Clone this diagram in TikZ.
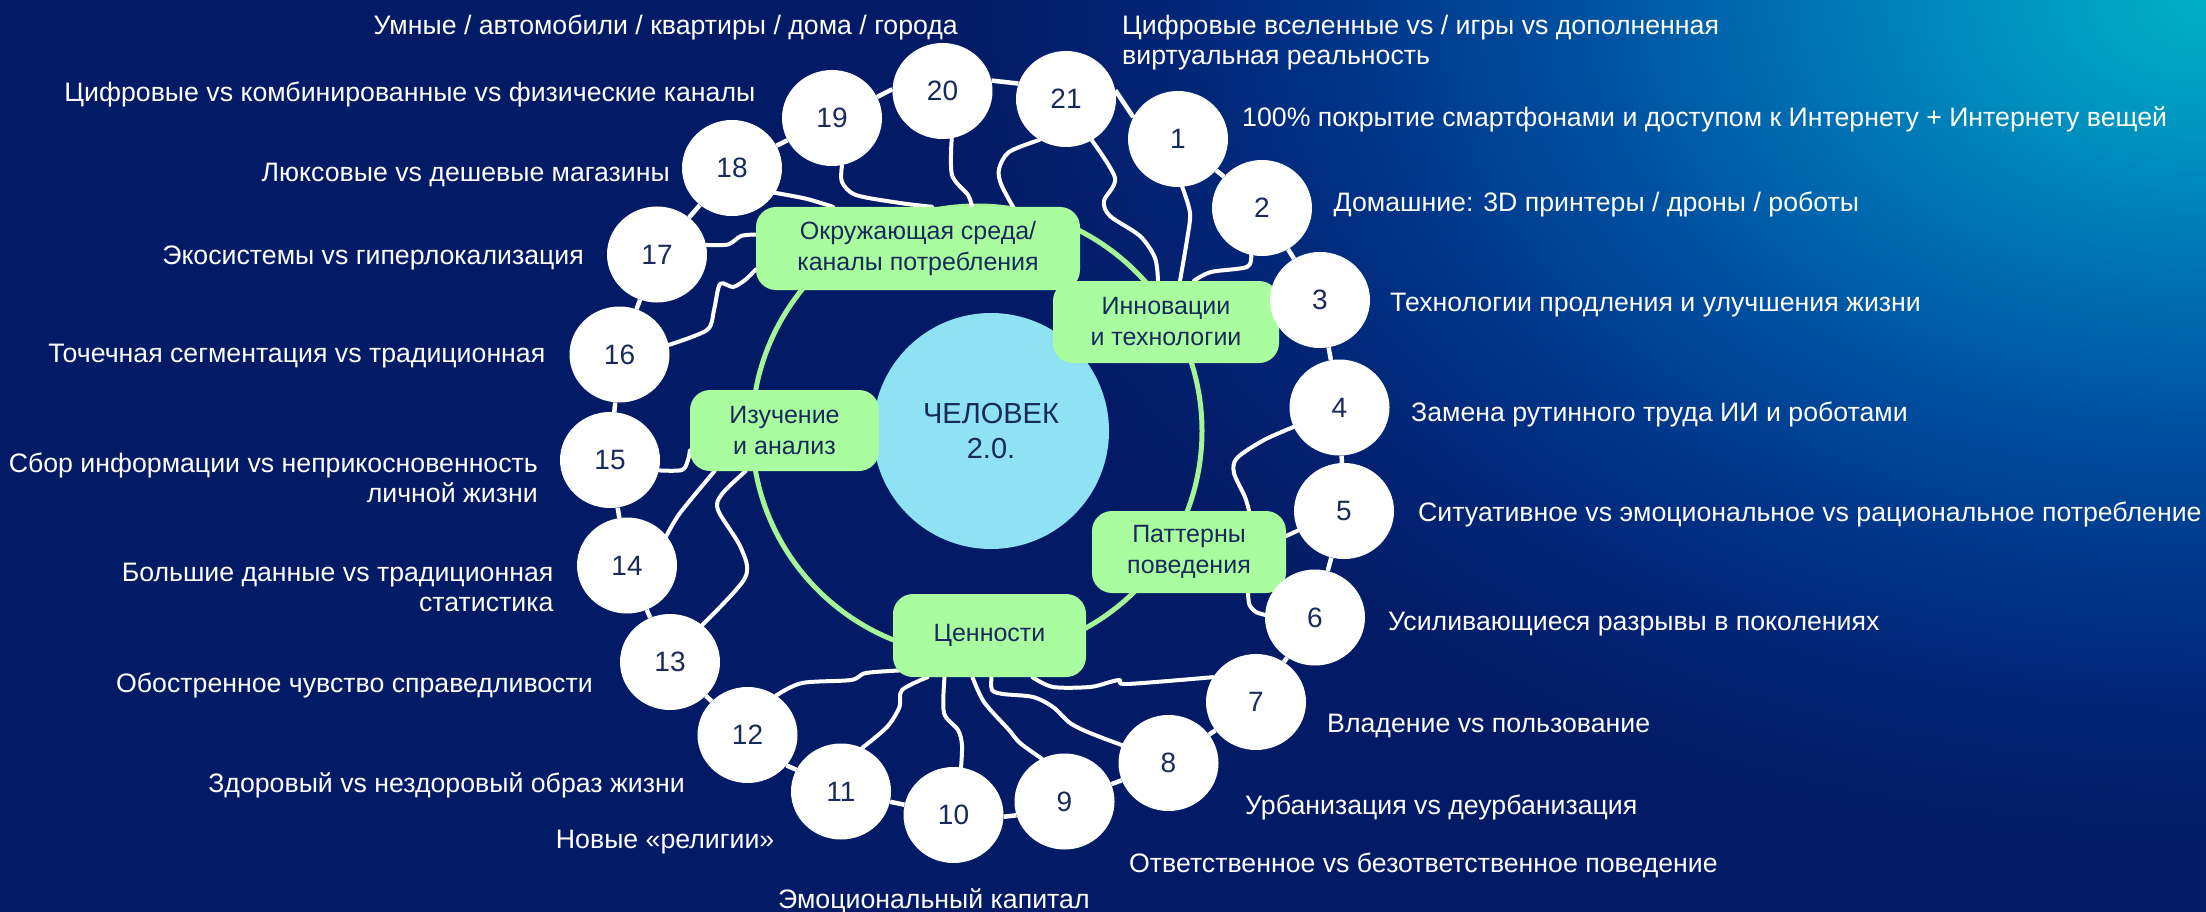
\documentclass[tikz,border=0pt]{standalone}
\usepackage{fontspec}
\setmainfont{Liberation Sans}
\usetikzlibrary{shapes.geometric}
\definecolor{bgnavy}{RGB}{3,27,102}
\definecolor{glowA}{RGB}{0,176,198}
\definecolor{glowB}{RGB}{0,150,192}
\definecolor{glowC}{RGB}{0,118,182}
\definecolor{glowD}{RGB}{0,80,160}
\definecolor{glowE}{RGB}{0,50,135}
\definecolor{glowF}{RGB}{3,35,115}
\definecolor{boxgreen}{RGB}{170,253,158}
\definecolor{ringgreen}{RGB}{165,245,150}
\definecolor{corecyan}{RGB}{142,226,243}
\definecolor{darktext}{RGB}{24,42,92}
\pgfdeclareradialshading{bgglow}{\pgfpoint{0bp}{0bp}}{color(0bp)=(glowA); color(3.75bp)=(glowB); color(7.5bp)=(glowC); color(12.5bp)=(glowD); color(17.5bp)=(glowE); color(21.25bp)=(glowF); color(25bp)=(bgnavy); color(50bp)=(bgnavy)}
\pgfdeclarelayer{bglayer}
\pgfdeclarelayer{wirelayer}
\pgfsetlayers{bglayer,wirelayer,main}
\begin{document}
\begin{tikzpicture}[x=1pt,y=-1pt,
  num/.style={ellipse, fill=white, minimum width=100pt, minimum height=96pt, inner sep=0pt, text=darktext, font=\fontsize{28}{28}\selectfont},
  cat/.style={rounded corners=20pt, fill=boxgreen, text=darktext, align=center, font=\fontsize{25}{31}\selectfont, inner sep=0pt},
  lbl/.style={text=white, font=\fontsize{26.7}{30}\selectfont, inner sep=0pt, text height=19.2pt, text depth=0pt},
  lblm/.style={text=white, font=\fontsize{26.7}{30}\selectfont, inner sep=0pt},
  wire/.style={white, line width=4pt, line cap=round, line join=round},
  link/.style={white, line width=4.5pt},
  ringline/.style={draw=ringgreen, line width=5pt}
]
\begin{pgfonlayer}{bglayer}
\fill[bgnavy] (0,0) rectangle (2206,912);
\begin{scope}
\clip (0,0) rectangle (2206,912);
\shade[shading=bgglow] (2206,0) ellipse [x radius=1250pt, y radius=850pt];
\end{scope}
\draw[ringline] (977,431) circle (225pt);
\end{pgfonlayer}
\useasboundingbox (0,0) rectangle (2206,912);

% core
\node[circle, fill=corecyan, minimum size=236pt, inner sep=0pt, text=darktext, align=center, font=\fontsize{29}{35}\selectfont] (core) at (991,431) {ЧЕЛОВЕК\\2.0.};

% category boxes
\node[cat, minimum width=324pt, minimum height=83pt] (env) at (918,248.5) {Окружающая среда/\\каналы потребления};
\node[cat, minimum width=226pt, minimum height=82pt] (inn) at (1166,322) {Инновации\\и технологии};
\node[cat, minimum width=189pt, minimum height=81pt] (study) at (784.5,430.5) {Изучение\\и анализ};
\node[cat, minimum width=194pt, minimum height=82pt] (pat) at (1189,552) {Паттерны\\поведения};
\node[cat, minimum width=193pt, minimum height=83pt] (val) at (989.5,635.5) {Ценности};

% numbered circles
\node[num] (c1) at (1178,139) {1};
\node[num] (c2) at (1262,208) {2};
\node[num] (c3) at (1320,300) {3};
\node[num] (c4) at (1339.5,407.5) {4};
\node[num] (c5) at (1344,511) {5};
\node[num] (c6) at (1315,617.5) {6};
\node[num] (c7) at (1256,702) {7};
\node[num] (c8) at (1168.5,763) {8};
\node[num] (c9) at (1064.5,801.5) {9};
\node[num] (c10) at (953.5,815) {10};
\node[num] (c11) at (841,791.5) {11};
\node[num] (c12) at (747.5,735) {12};
\node[num] (c13) at (670,662) {13};
\node[num] (c14) at (627,565.5) {14};
\node[num] (c15) at (610,460) {15};
\node[num] (c16) at (619.5,354.5) {16};
\node[num] (c17) at (657,254.5) {17};
\node[num] (c18) at (732,168) {18};
\node[num] (c19) at (832,118) {19};
\node[num] (c20) at (942.5,91) {20};
\node[num] (c21) at (1066,99) {21};

\begin{pgfonlayer}{wirelayer}
% chain
\draw[link] (c1) -- (c2);
\draw[link] (c2) -- (c3);
\draw[link] (c3) -- (c4);
\draw[link] (c4) -- (c5);
\draw[link] (c5) -- (c6);
\draw[link] (c6) -- (c7);
\draw[link] (c7) -- (c8);
\draw[link] (c8) -- (c9);
\draw[link] (c9.196) -- (c10.-2);
\draw[link] (c10) -- (c11);
\draw[link] (c12.-38) -- (c11.154);
\draw[link] (c12) -- (c13);
\draw[link] (c13) -- (c14);
\draw[link] (c14) -- (c15);
\draw[link] (c15) -- (c16);
\draw[link] (c16) -- (c17);
\draw[link] (c17) -- (c18);
\draw[link] (c18) -- (c19);
\draw[link] (c19.25) -- (c20.178);
\draw[link] (c20.12) -- (c21.162);
\draw[link] (c21.10) -- (c1.154);
% wires to categories
\draw[wire] plot[smooth, tension=0.5] coordinates {(c19.-78) (842,182) (856,195) (900,203) ([xshift=14pt]env.north)};
\draw[wire] plot[smooth, tension=0.5] coordinates {(c20.-79) (952,175) (968,195) ([xshift=54pt]env.north)};
\draw[wire] plot[smooth, tension=0.5] coordinates {(c21.-123) (1009,152) (999,169) (1001,184) ([xshift=95pt]env.north)};
\draw[wire] plot[smooth, tension=0.5] coordinates {(c21.-58) (1115,178) (1104,201) (1110,216) (1140,236) (1155,258) ([xshift=-8pt]inn.north)};
\draw[wire] plot[smooth, tension=0.5] coordinates {(c1.-85) (1190,213) (1187,240) ([xshift=14pt]inn.north)};
\draw[wire] plot[smooth, tension=0.5] coordinates {(c2.-103) (1247,267) (1211,272) ([xshift=28pt]inn.north)};
\draw[wire] plot[smooth, tension=0.5] coordinates {(c4.-157) (1264,440) (1237,458) (1234,473) (1245,497) ([xshift=60pt]pat.north)};
\draw[wire] (c5.-157) -- ([yshift=16pt]pat.east);
\draw[wire] plot[smooth, tension=0.5] coordinates {([xshift=59pt]pat.south) (1249.5,605) (1256,612) (c6.177)};
\draw[wire] plot[smooth, tension=0.5] coordinates {([xshift=43pt]val.south) (1053,687) (1090,687) (1110,682) (1120,680) (1127,684) (c7.150)};
\draw[wire] plot[smooth, tension=0.5] coordinates {([xshift=2pt]val.south) (992,690) (1003,694) (1033,697) (1053,707) (1070,723) (1090,733) (c8.159)};
\draw[wire] plot[smooth, tension=0.5] coordinates {([xshift=-17pt]val.south) (984,702) (1009,730) (1020,743) (c9.118)};
\draw[wire] plot[smooth, tension=0.5] coordinates {([xshift=-45pt]val.south) (944,713) (958,730) (962,745) (c10.81)};
\draw[wire] plot[smooth, tension=0.5] coordinates {([xshift=-62pt]val.south) (902,690) (899.5,707) (887,727) (c11.64)};
\draw[wire] plot[smooth, tension=0.5] coordinates {([xshift=-85pt,yshift=7pt]val.south) (866,673) (851,680) (802,683) (c12.54)};
\draw[wire] plot[smooth, tension=0.5] coordinates {(c15.-12) (682,470) (688,460) ([yshift=-20pt]study.west)};
\draw[wire] plot[smooth, tension=0.5] coordinates {(c14.37) (680,513) ([xshift=-70pt]study.south)};
\draw[wire] plot[smooth, tension=0.5] coordinates {(c13.49) (745,578) (741,548) (718,510) (722,494) ([xshift=-39pt]study.south)};
\draw[wire] plot[smooth, tension=0.5] coordinates {(c16.11) (707,330) (714,310) (720,284) (733,287) (745,280) ([yshift=-21pt]env.west)};
\draw[wire] plot[smooth, tension=0.5] coordinates {(c17.11) (728,244.5) (741,236) ([yshift=14pt]env.west)};
\draw[wire] plot[smooth, tension=0.5] coordinates {(c18.-30) (806,198.7) ([xshift=-85pt]env.north)};
\end{pgfonlayer}

% labels left
\node[lbl, anchor=east] (t20) at (958,25) {Умные / автомобили / квартиры / дома / города};
\node[lbl, anchor=east] (t19) at (755.5,92) {Цифровые vs комбинированные vs физические каналы};
\node[lbl, anchor=east] (t18) at (670,171.7) {Люксовые vs дешевые магазины};
\node[lbl, anchor=east] (t17) at (584,255) {Экосистемы vs гиперлокализация};
\node[lbl, anchor=east] (t16) at (545.5,353) {Точечная сегментация vs традиционная};
\node[lblm, anchor=north east, align=right] (t15) at (538,453) {Сбор информации vs неприкосновенность\\личной жизни};
\node[lblm, anchor=north east, align=right] (t14) at (553.6,563) {Большие данные vs традиционная\\статистика};
\node[lbl, anchor=east] (t13) at (593,683) {Обостренное чувство справедливости};
\node[lbl, anchor=east] (t12) at (685,783) {Здоровый vs нездоровый образ жизни};
\node[lbl, anchor=east] (t11) at (774.5,839) {Новые «религии»};
\node[lbl, anchor=west] (t10) at (778,899) {Эмоциональный капитал};
% labels right
\node[lblm, anchor=north west, align=left] (t21) at (1122,15) {Цифровые вселенные vs / игры vs дополненная\\виртуальная реальность};
\node[lbl, anchor=west] (t1) at (1242,117) {100\% покрытие смартфонами и доступом к Интернету + Интернету вещей};
\node[lbl, anchor=west] (t2) at (1333.5,202) {Домашние: 3D принтеры / дроны / роботы};
\node[lbl, anchor=west] (t3) at (1390,302) {Технологии продления и улучшения жизни};
\node[lbl, anchor=west] (t4) at (1411,412) {Замена рутинного труда ИИ и роботами};
\node[lbl, anchor=west] (t5) at (1418,512) {Ситуативное vs эмоциональное vs рациональное потребление};
\node[lbl, anchor=west] (t6) at (1388,621) {Усиливающиеся разрывы в поколениях};
\node[lbl, anchor=west] (t7) at (1327,723) {Владение vs пользование};
\node[lbl, anchor=west] (t8) at (1245,805) {Урбанизация vs деурбанизация};
\node[lbl, anchor=west] (t9) at (1129,863) {Ответственное vs безответственное поведение};
\end{tikzpicture}
\end{document}
